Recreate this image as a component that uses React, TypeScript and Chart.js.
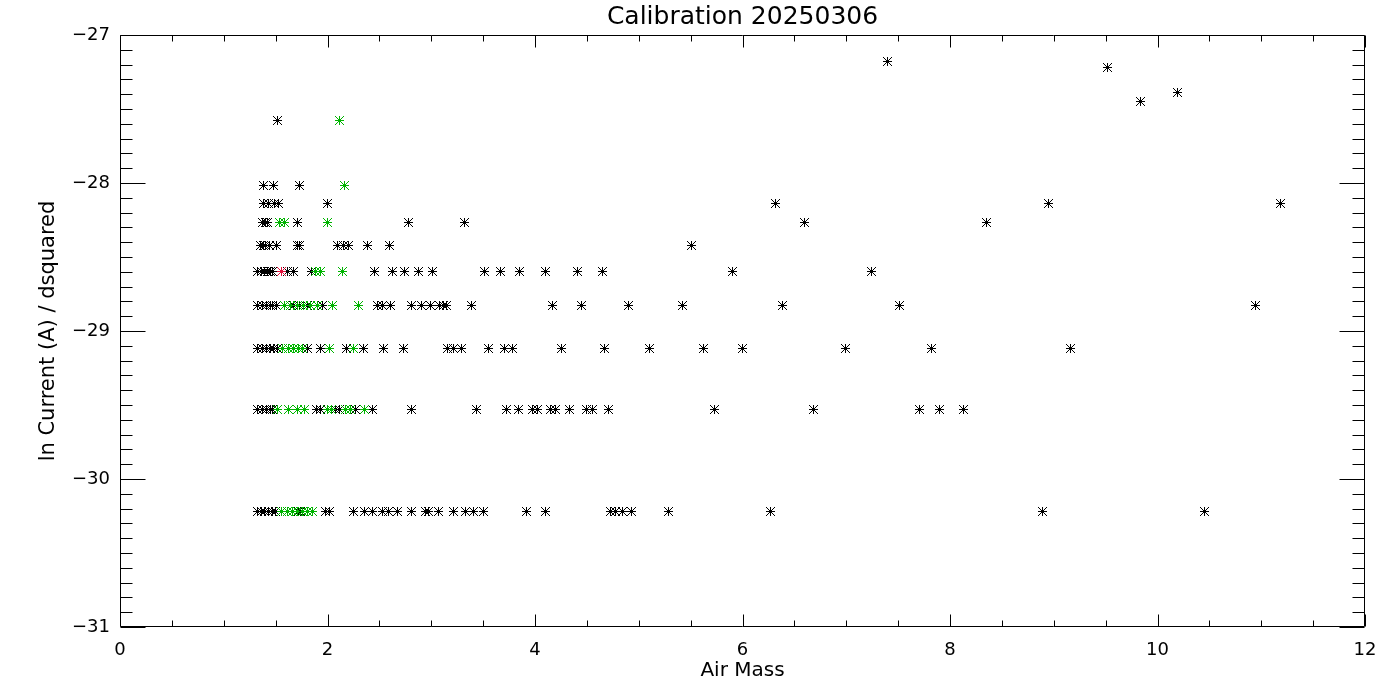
import React, { useEffect, useRef } from 'react';
import { Chart, registerables } from 'chart.js';

Chart.register(...registerables);

// ln current levels (rows of the plot)
const lnLevels = [-27.18, -27.22, -27.39, -27.45, -27.58, -28.02, -28.14, -28.27, -28.42, -28.60, -28.83, -29.12, -29.53, -30.22];

// air-mass values of the black points, one list per level above
const blackAirMass: number[][] = [
  [7.40],
  [9.52],
  [10.19],
  [9.84],
  [1.52],
  [1.38, 1.48, 1.73],
  [1.38, 1.43, 1.49, 1.53, 2.00, 6.32, 8.95, 11.19],
  [1.37, 1.40, 1.42, 1.71, 2.78, 3.32, 6.60, 8.35],
  [1.35, 1.38, 1.40, 1.44, 1.51, 1.71, 1.73, 2.10, 2.15, 2.20, 2.39, 2.60, 5.51],
  [1.33, 1.36, 1.39, 1.42, 1.45, 1.47, 1.61, 1.67, 1.85, 2.45, 2.63, 2.74, 2.88, 3.01, 3.51, 3.67, 3.85, 4.10, 4.41, 4.65, 5.90, 7.24],
  [1.33, 1.37, 1.41, 1.45, 1.47, 1.51, 1.67, 1.73, 1.81, 1.95, 2.48, 2.53, 2.61, 2.81, 2.91, 2.99, 3.08, 3.12, 3.15, 3.39, 4.17, 4.45, 4.90, 5.42, 6.39, 7.51, 10.94],
  [1.33, 1.37, 1.41, 1.45, 1.48, 1.52, 1.81, 1.93, 2.18, 2.35, 2.54, 2.73, 3.16, 3.21, 3.29, 3.55, 3.71, 3.78, 4.26, 4.67, 5.10, 5.62, 6.00, 6.99, 7.82, 9.16],
  [1.33, 1.37, 1.41, 1.45, 1.47, 1.89, 1.93, 2.08, 2.12, 2.27, 2.43, 2.81, 3.44, 3.73, 3.84, 3.98, 4.02, 4.15, 4.20, 4.33, 4.50, 4.55, 4.71, 5.73, 6.68, 7.71, 7.90, 8.13],
  [1.33, 1.36, 1.39, 1.43, 1.47, 1.50, 1.72, 1.74, 1.98, 2.02, 2.25, 2.36, 2.43, 2.53, 2.59, 2.67, 2.81, 2.94, 2.97, 3.07, 3.21, 3.33, 3.41, 3.50, 3.92, 4.10, 4.73, 4.78, 4.84, 4.93, 5.29, 6.27, 8.89, 10.45],
];

// air-mass values of the green points, per level
const greenAirMass: number[][] = [
  [], [], [], [],
  [2.12],
  [2.16],
  [],
  [1.54, 1.59, 2.00],
  [],
  [1.88, 1.93, 2.14],
  [1.59, 1.64, 1.71, 1.77, 1.84, 1.90, 2.05, 2.30],
  [1.57, 1.62, 1.67, 1.72, 1.76, 2.02, 2.25],
  [1.52, 1.62, 1.71, 1.78, 2.00, 2.04, 2.17, 2.22, 2.36],
  [1.56, 1.61, 1.66, 1.71, 1.76, 1.81, 1.86],
];

// air-mass values of the red points, per level
const redAirMass: number[][] = [
  [], [], [], [], [], [], [], [], [],
  [1.56],
  [], [], [], [],
];

const xTickValues = [0, 2, 4, 6, 8, 10, 12];
const yTickValues = [-31, -30, -29, -28, -27];

const TITLE = 'Calibration 20250306';
const FONT = "'DejaVu Sans', sans-serif";

function toPoints(rows: number[][]) {
  const pts: { x: number; y: number }[] = [];
  rows.forEach((row, i) => row.forEach((x) => pts.push({ x, y: lnLevels[i] })));
  return pts;
}

// pixel asterisk marker, like a plotting-package "psym=2"
function asterisk(color: string) {
  const n = 9;
  const c = document.createElement('canvas');
  c.width = n;
  c.height = n;
  const g = c.getContext('2d')!;
  g.fillStyle = color;
  const m = (n - 1) / 2;
  for (let i = 0; i < n; i++) {
    g.fillRect(i, m, 1, 1);
    g.fillRect(m, i, 1, 1);
    g.fillRect(i, i, 1, 1);
    g.fillRect(n - 1 - i, i, 1, 1);
  }
  g.fillRect(m - 1, m - 1, 3, 3);
  return c;
}

const framePlugin = {
  id: 'frame',
  beforeDatasetsDraw(chart: any) {
    chart.ctx.imageSmoothingEnabled = false;
  },
  afterDraw(chart: any) {
    const { ctx, chartArea } = chart;
    const xs = chart.scales.x;
    const ys = chart.scales.y;
    const L = Math.round(chartArea.left) + 0.5;
    const R = Math.round(chartArea.right) - 0.5;
    const T = Math.round(chartArea.top) + 0.5;
    const B = Math.round(chartArea.bottom) - 0.5;
    ctx.save();
    ctx.strokeStyle = '#000';
    ctx.lineWidth = 1;
    ctx.beginPath();
    ctx.rect(L, T, R - L, B - T);
    ctx.stroke();
    ctx.beginPath();
    for (let i = 0; i <= 24; i++) {
      const v = i * 0.5;
      const px = Math.round(xs.getPixelForValue(v)) + 0.5;
      const len = i % 4 === 0 ? 12 : 6;
      ctx.moveTo(px, B);
      ctx.lineTo(px, B - len);
      ctx.moveTo(px, T);
      ctx.lineTo(px, T + len);
    }
    for (let i = 0; i <= 40; i++) {
      const v = -31 + i * 0.1;
      const py = Math.round(ys.getPixelForValue(v)) + 0.5;
      const len = i % 10 === 0 ? 25 : 12;
      ctx.moveTo(L, py);
      ctx.lineTo(L + len, py);
      ctx.moveTo(R, py);
      ctx.lineTo(R - len, py);
    }
    ctx.stroke();
    // main title centred over the plot box
    ctx.fillStyle = '#000';
    ctx.font = `25px ${FONT}`;
    ctx.textAlign = 'center';
    ctx.textBaseline = 'middle';
    ctx.fillText(TITLE, (chartArea.left + chartArea.right) / 2, 17);
    ctx.restore();
  },
};

export default function App() {
  const ref = useRef<HTMLCanvasElement | null>(null);
  useEffect(() => {
    if (!ref.current) return;
    const common = {
      pointRadius: 4.5,
      showLine: false,
    };
    const chart = new Chart(ref.current, {
      type: 'scatter',
      data: {
        datasets: [
          { ...common, label: 'red', data: toPoints(redAirMass), pointStyle: asterisk('#e0103c'), borderColor: '#e0103c', order: 1 },
          { ...common, label: 'green', data: toPoints(greenAirMass), pointStyle: asterisk('#00b400'), borderColor: '#00b400', order: 2 },
          { ...common, label: 'black', data: toPoints(blackAirMass), pointStyle: asterisk('#000000'), borderColor: '#000000', order: 3 },
        ] as any,
      },
      options: {
        animation: false,
        responsive: false,
        devicePixelRatio: 1,
        layout: { padding: { top: 35, right: 35, bottom: 0, left: 0 } },
        plugins: {
          legend: { display: false },
          tooltip: { enabled: false },
          title: { display: false },
        },
        scales: {
          x: {
            type: 'linear',
            min: 0,
            max: 12,
            afterBuildTicks: (s: any) => { s.ticks = xTickValues.map((v) => ({ value: v })); },
            afterFit: (s: any) => { s.height = 73; },
            grid: { display: false, drawTicks: false },
            border: { display: false },
            ticks: {
              color: '#000',
              font: { family: FONT, size: 18 },
              padding: 13,
              maxRotation: 0,
              callback: (v: any) => String(v),
            },
            title: {
              display: true,
              text: 'Air Mass',
              color: '#000',
              font: { family: FONT, size: 20 },
              padding: { top: 0, bottom: 17 },
            },
          },
          y: {
            type: 'linear',
            min: -31,
            max: -27,
            afterBuildTicks: (s: any) => { s.ticks = yTickValues.map((v) => ({ value: v })); },
            afterFit: (s: any) => { s.width = 120; },
            grid: { display: false, drawTicks: false },
            border: { display: false },
            ticks: {
              color: '#000',
              font: { family: FONT, size: 18 },
              padding: 10,
              callback: (v: any) => (v < 0 ? '\u2212' + Math.abs(v) : String(v)),
            },
            title: {
              display: true,
              text: 'ln Current (A) / dsquared',
              color: '#000',
              font: { family: FONT, size: 21 },
              padding: { top: 36, bottom: 0 },
            },
          },
        },
      },
      plugins: [framePlugin],
    } as any);
    return () => chart.destroy();
  }, []);
  return (
    <div style={{ position: 'fixed', left: 0, top: 0, width: 1400, height: 700, background: '#fff' }}>
      <canvas ref={ref} width={1400} height={700} style={{ display: 'block' }} />
    </div>
  );
}
